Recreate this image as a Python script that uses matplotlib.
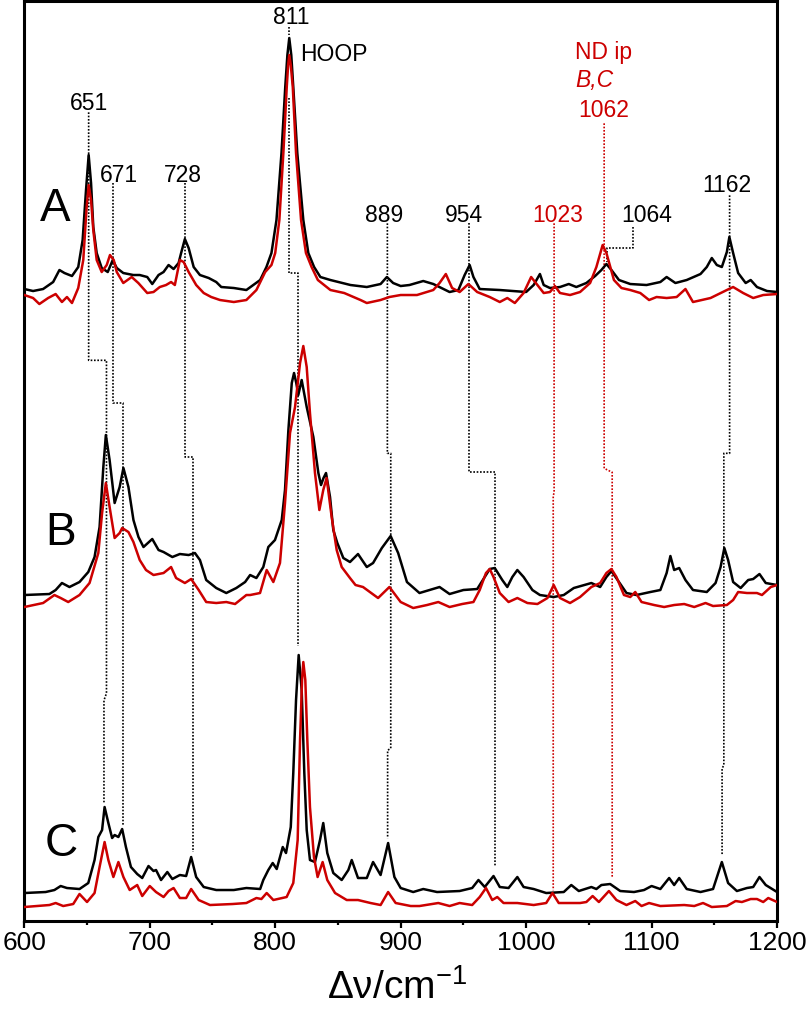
import matplotlib
matplotlib.use("Agg")
import matplotlib.pyplot as plt
from matplotlib.ticker import MultipleLocator

plt.rcParams['font.family'] = ['Liberation Sans', 'DejaVu Sans']
plt.rcParams['mathtext.default'] = 'regular'

RED = '#cc0000'

# spectra: (wavenumber in cm-1, intensity above the panel baseline)
a_black = [
    (600, 11), (607, 9), (615, 11), (623, 18), (628, 30), (632, 27), (638, 24), (643, 33),
    (646.5, 60), (649.2, 110), (651.3, 145), (653.2, 117), (655, 73), (657.7, 47),
    (661.7, 32), (666.5, 28), (670.5, 40), (673.7, 32), (678.9, 27), (686.9, 25), (692, 25),
    (698, 23), (702, 16), (707, 25), (711, 28), (715, 35), (719, 31), (723, 37), (725, 47),
    (728, 61), (731, 52), (735, 33), (740, 25), (747, 22), (753, 18), (757, 13), (767, 12),
    (777, 10), (788, 20), (793, 33), (797, 47), (801, 80), (805, 147), (808, 213),
    (809.7, 245), (811.2, 262), (812.8, 245), (814.4, 213), (817.6, 147), (822.4, 80),
    (826.4, 47), (831, 33), (836, 23), (844, 20), (860, 15), (873, 13), (884, 16),
    (889, 23), (894, 17), (900, 14), (907, 15), (918, 19), (926, 16), (939, 8), (946, 10),
    (951, 25), (955, 35), (958, 23), (963, 11), (979, 10), (1000, 8), (1006, 15), (1011, 26),
    (1014, 15), (1019, 12), (1027, 13), (1034, 16), (1040, 13), (1048, 17), (1055, 24),
    (1060, 30), (1064, 36), (1068, 30), (1074, 20), (1083, 16), (1096, 15), (1107, 18),
    (1112, 23), (1119, 17), (1128, 20), (1139, 26), (1144, 33), (1148, 42), (1152, 35),
    (1156, 33), (1160, 48), (1162, 63), (1165, 47), (1169, 27), (1175, 17), (1179, 20),
    (1184, 13), (1192, 9), (1200, 8),
]

a_red = [
    (600, 5), (607, 2), (612, -4), (619, 2), (625, 6), (630, -2), (634, 3), (638, -3),
    (643, 12), (647, 40), (649.7, 93), (651.3, 115), (653.2, 100), (655, 70), (657.7, 40),
    (661.7, 28), (665.7, 35), (668.3, 45), (671.3, 40), (673.7, 28), (678.9, 17),
    (685.6, 23), (690.9, 17), (698, 7), (703, 8), (708, 13), (713, 15), (717, 18), (720, 15),
    (724, 40), (727, 38), (731, 28), (737, 15), (743, 7), (749, 3), (756, 0), (767, -2),
    (777, 0), (785, 10), (792, 28), (797, 35), (800, 47), (803.3, 80), (806.5, 147),
    (809.2, 213), (810.3, 235), (811.2, 245), (812.4, 235), (814, 213), (816.6, 147),
    (820.6, 80), (824.5, 47), (829, 33), (834, 20), (844, 10), (855, 7), (868, 0),
    (873, -3), (884, 0), (891, 3), (900, 5), (913, 5), (926, 10), (931, 17), (936, 26),
    (941, 12), (947, 8), (954, 16), (961, 8), (971, 3), (979, -2), (985, 2), (991, -3),
    (998, 7), (1004, 23), (1009, 15), (1014, 7), (1019, 8), (1023, 14), (1027, 7),
    (1035, 5), (1043, 8), (1051, 17), (1056, 33), (1061, 55), (1064, 47), (1070, 20),
    (1076, 12), (1083, 10), (1091, 7), (1098, 0), (1104, 3), (1112, 2), (1120, 3),
    (1127, 11), (1133, -2), (1147, 2), (1160, 10), (1165, 13), (1173, 7), (1181, 2),
    (1189, 5), (1200, 6),
]

b_black = [
    (600, 13), (620, 14), (625, 18), (630, 25), (636, 21), (644, 26), (651, 36), (656, 51),
    (660, 81), (663, 141), (665, 173), (668, 148), (672, 105), (676, 121), (679, 140),
    (683, 121), (687, 88), (691, 71), (695, 61), (702, 69), (707, 58), (711, 56), (718, 51),
    (724, 54), (731, 53), (736, 55), (740, 48), (745, 28), (753, 20), (761, 15), (769, 20),
    (776, 26), (780, 33), (785, 30), (790.5, 41), (794.5, 61), (799.8, 68), (805.2, 88),
    (807.8, 118), (810.5, 178), (813.2, 225), (815, 235), (816.8, 225), (818.4, 213),
    (821.1, 228), (825.1, 201), (830.4, 171), (834.4, 135), (836.5, 123), (838.5, 130),
    (840.5, 135), (843.7, 111), (846.3, 78), (849.5, 65), (854.3, 50), (859.6, 46),
    (866, 54), (873, 41), (878, 45), (885, 60), (892, 72), (898, 55), (905, 26), (915, 15),
    (923, 18), (931, 21), (939, 14), (950, 18), (961, 19), (967, 31), (971, 39), (975, 40),
    (981, 28), (985, 21), (989, 31), (993, 38), (998, 31), (1005, 18), (1011, 13),
    (1022, 11), (1030, 13), (1038, 20), (1052, 25), (1059, 21), (1064, 31), (1068, 37),
    (1074, 26), (1080, 15), (1088, 13), (1099, 16), (1107, 18), (1112, 35), (1115, 52),
    (1118, 38), (1122, 40), (1127, 28), (1133, 18), (1144, 16), (1151, 25), (1155, 41),
    (1158, 60), (1161, 48), (1165, 26), (1171, 20), (1177, 28), (1181, 29), (1186, 34),
    (1191, 25), (1200, 23),
]

b_red = [
    (600, 1), (615, 5), (624, 13), (629, 10), (635, 6), (644, 13), (652, 25), (659, 55),
    (662, 95), (665, 125), (668, 101), (672, 70), (676, 75), (678, 80), (683, 76), (687, 66),
    (692, 48), (697, 38), (703, 33), (711, 35), (717, 41), (721, 30), (728, 25), (733, 29),
    (739, 18), (745, 6), (753, 5), (761, 6), (768, 4), (777, 13), (780, 13), (787.9, 15),
    (793.2, 38), (798.5, 26), (803.8, 45), (807.8, 105), (811.8, 175), (815.8, 201),
    (819.8, 245), (822.4, 262), (825.1, 241), (827.7, 195), (831.7, 135), (835.2, 98),
    (838.3, 118), (841, 130), (845, 91), (849, 58), (853, 41), (859.6, 30), (864, 23),
    (870, 21), (882, 10), (891, 21), (900, 6), (910, 0), (921, 3), (930, 6), (939, 1),
    (949, 4), (958, 6), (963, 18), (968, 35), (971, 39), (974, 31), (979, 15), (986, 6),
    (993, 10), (1001, 5), (1009, 4), (1017, 10), (1022, 23), (1027, 10), (1035, 5),
    (1043, 11), (1052, 21), (1059, 25), (1064, 35), (1068, 39), (1072, 31), (1078, 13),
    (1083, 11), (1087, 16), (1092, 6), (1102, 3), (1110, 1), (1118, 3), (1126, 4),
    (1134, 1), (1143, 5), (1149, 2), (1160, 3), (1165, 8), (1169, 16), (1176, 15),
    (1184, 15), (1188, 13), (1195, 21), (1200, 23),
]

c_black = [
    (600, 17), (617, 18), (624, 20), (629, 24), (634, 22), (644, 21), (651, 27), (656, 50),
    (659, 73), (662, 80), (664, 103), (667, 87), (670, 72), (672, 75), (675, 73), (678, 81),
    (681, 63), (685, 43), (690, 36), (694, 32), (699, 44), (703, 39), (705, 40), (709, 30),
    (714, 38), (718, 31), (724, 35), (729, 34), (733, 53), (737, 33), (743, 23), (753, 20),
    (767, 20), (777, 22), (788, 21), (790.5, 30), (794.5, 40), (798, 47), (801.2, 41),
    (806, 63), (808.6, 57), (812.4, 83), (814.4, 137), (816.6, 210), (818.7, 255),
    (821.1, 220), (823.2, 137), (825.1, 80), (827.7, 50), (831.7, 48), (835.7, 70),
    (838.3, 87), (841.5, 57), (846.3, 37), (853, 30), (858.3, 40), (861, 50), (866, 32),
    (873, 32), (878, 48), (884, 35), (890, 67), (895, 33), (900, 22), (910, 18), (918, 21),
    (929, 18), (947, 19), (957, 22), (962, 30), (967, 23), (974, 34), (979, 23), (986, 22),
    (993, 33), (998, 23), (1006, 21), (1016, 17), (1030, 18), (1036, 25), (1042, 19),
    (1052, 23), (1056, 21), (1060, 25), (1067, 26), (1075, 19), (1086, 18), (1094, 20),
    (1100, 24), (1107, 21), (1114, 32), (1118, 25), (1122, 32), (1128, 21), (1139, 18),
    (1149, 21), (1156, 48), (1161, 27), (1168, 19), (1176, 22), (1181, 23), (1186, 33),
    (1191, 25), (1200, 18),
]

c_red = [
    (600, 3), (620, 5), (625, 7), (631, 4), (639, 6), (644, 16), (650, 8), (656, 17),
    (660, 43), (664, 68), (667, 50), (671, 33), (675, 48), (679, 33), (684, 20), (690, 25),
    (694, 14), (700, 24), (705, 18), (711, 13), (715, 19), (719, 22), (724, 12), (729, 12),
    (733, 21), (739, 10), (748, 5), (766, 6), (777, 7), (785, 12), (789, 11), (793.2, 17),
    (798.5, 10), (809.1, 13), (814.4, 27), (817.9, 70), (819.8, 170), (821.4, 230),
    (822.4, 248), (824, 230), (825.6, 170), (827.7, 103), (830.9, 53), (833.8, 33),
    (837.8, 48), (841.5, 30), (847.7, 17), (857, 10), (866, 10), (876, 7), (884, 5),
    (890, 18), (896, 7), (908, 4), (915, 4), (930, 7), (939, 4), (947, 7), (957, 5),
    (963, 13), (968, 22), (973, 10), (977, 13), (982, 7), (993, 7), (1006, 5), (1016, 7),
    (1021, 17), (1026, 7), (1035, 7), (1043, 7), (1048, 8), (1053, 14), (1058, 8),
    (1066, 19), (1072, 10), (1080, 5), (1087, 9), (1092, 4), (1098, 7), (1107, 4),
    (1126, 5), (1134, 4), (1141, 7), (1148, 3), (1160, 4), (1167, 9), (1172, 8),
    (1179, 11), (1184, 11), (1189, 8), (1193, 12), (1200, 8),
]

# band correlation guides (wavenumber, height on the common axis)
guides_black = [
    [(651.3, 809), (651.3, 561), (665.5, 561), (665.5, 228), (663.5, 221), (663.5, 119)],
    [(670.9, 738), (670.9, 518), (678.8, 518), (678.8, 96)],
    [(728.0, 738), (728.0, 464), (734.1, 464), (734.1, 69)],
    [(811.0, 894), (811.0, 886)],
    [(811.0, 823), (811.0, 648), (818.5, 648), (818.5, 275)],
    [(889.4, 698), (889.4, 468), (892.1, 468), (892.1, 173), (889.6, 171), (889.6, 83)],
    [(954.8, 698), (954.8, 449), (974.9, 449), (974.9, 54)],
    [(1084.8, 694), (1084.8, 673), (1064.4, 673), (1064.4, 659)],
    [(1162.2, 726), (1162.2, 468), (1157.6, 468), (1157.6, 156), (1156.2, 153), (1156.2, 66)],
]
guides_red = [
    [(1062.2, 798), (1062.2, 453), (1068.6, 449), (1068.6, 43)],
    [(1022.3, 698), (1022.3, 429), (1021.6, 425), (1021.6, 31)],
]

# (text, wavenumber, height, colour, alignment, style)
labels = [
    ("651", 651.5, 811, 'k', 'center', 'normal'),
    ("671", 675.4, 739, 'k', 'center', 'normal'),
    ("728", 726.3, 739, 'k', 'center', 'normal'),
    ("811", 812.6, 897, 'k', 'center', 'normal'),
    ("HOOP", 819.7, 860, 'k', 'left', 'normal'),
    ("889", 886.7, 699, 'k', 'center', 'normal'),
    ("954", 950.5, 699, 'k', 'center', 'normal'),
    ("1023", 1025.2, 699, RED, 'center', 'normal'),
    ("1064", 1096.5, 699, 'k', 'center', 'normal'),
    ("1162", 1160.3, 729, 'k', 'center', 'normal'),
    ("ND ip", 1039.0, 862, RED, 'left', 'normal'),
    ("B,C", 1039.0, 834, RED, 'left', 'italic'),
    ("1062", 1041.4, 804, RED, 'left', 'normal'),
]

offsets = {'A': 621.3, 'B': 313.3, 'C': 11.3}
panels = [('A', a_black, a_red), ('B', b_black, b_red), ('C', c_black, c_red)]
letter_pos = {'A': (612.5, 700), 'B': (616.5, 376), 'C': (616.5, 65)}

fig = plt.figure(figsize=(8.1, 10.09), dpi=100)
ax = fig.add_axes([0.030, 0.0869, 0.9293, 0.9118])

for g in guides_black:
    xs, ys = zip(*g)
    ax.plot(xs, ys, color='k', lw=1.2, ls=(0, (1, 1)), zorder=1)
for g in guides_red:
    xs, ys = zip(*g)
    ax.plot(xs, ys, color=RED, lw=1.2, ls=(0, (1, 1)), zorder=1)

for name, black, red in panels:
    off = offsets[name]
    x, y = zip(*black)
    ax.plot(x, [v + off for v in y], color='k', lw=1.8, zorder=3,
            solid_joinstyle='round')
    x, y = zip(*red)
    ax.plot(x, [v + off for v in y], color=RED, lw=1.8, zorder=4,
            solid_joinstyle='round')
    lx, ly = letter_pos[name]
    ax.text(lx, ly, name, fontsize=33, ha='left', va='baseline')

for txt, x, y, col, ha, st in labels:
    ax.text(x, y, txt, color=col, fontsize=16.5, ha=ha, va='baseline', style=st)

ax.set_xlim(600, 1200)
ax.set_ylim(0, 920)
ax.set_yticks([])
ax.xaxis.set_major_locator(MultipleLocator(100))
ax.xaxis.set_minor_locator(MultipleLocator(50))
ax.tick_params(axis='x', which='major', direction='out', length=5, width=1.6,
               labelsize=19, pad=2)
ax.tick_params(axis='x', which='minor', direction='out', length=3.2, width=1.6)
for s in ax.spines.values():
    s.set_linewidth(2.2)

fig.text(0.49, 0.002, r"Δν/cm$^{-1}$", fontsize=28, ha='center', va='bottom')

fig.savefig("out.png", dpi=100)
